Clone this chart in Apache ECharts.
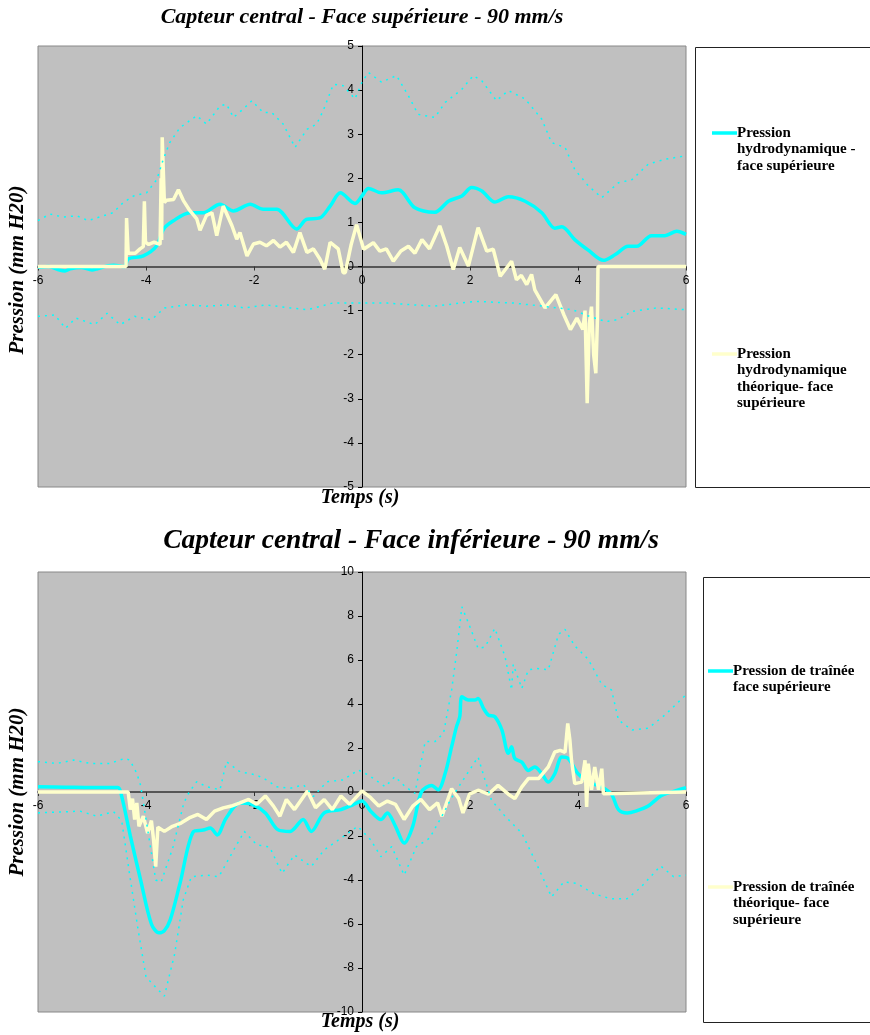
<!DOCTYPE html>
<html>
<head>
<meta charset="utf-8">
<script src="https://cdn.jsdelivr.net/npm/echarts@6/dist/echarts.min.js"></script>
<style>
  body { margin: 0; background: #fff; }
  #chart { width: 870px; height: 1035px; }
</style>
</head>
<body>
<div id="chart"></div>
<script>
// Capteur central - 90 mm/s : face supérieure (haut) et face inférieure (bas)
var topTitle = 'Capteur central - Face supérieure - 90 mm/s';
var botTitle = 'Capteur central - Face inférieure - 90 mm/s';
var topNames = ['Pression hydrodynamique - face supérieure', 'Pression hydrodynamique théorique- face supérieure'];
var botNames = ['Pression de traînée face supérieure', 'Pression de traînée théorique- face supérieure'];

// [temps (s), pression (mm H20)]
var topMeasured = [[-6,-0.02],[-5.8,0],[-5.6,-0.08],[-5.5,-0.1],[-5.4,-0.05],[-5.2,-0.02],[-5.0,-0.08],[-4.9,-0.05],
  [-4.7,0.02],[-4.6,0.03],[-4.4,0],[-4.33,0.17],[-4.05,0.24],[-3.8,0.47],[-3.68,0.84],[-3.5,1.03],[-3.19,1.22],
  [-2.94,1.22],[-2.63,1.41],[-2.38,1.26],[-2.07,1.41],[-1.83,1.3],[-1.58,1.3],[-1.21,0.85],[-1.03,1.07],[-0.78,1.1],
  [-0.59,1.37],[-0.4,1.67],[-0.13,1.43],[0,1.6],[0.12,1.77],[0.36,1.67],[0.67,1.74],[0.98,1.33],[1.35,1.23],[1.6,1.48],
  [1.85,1.6],[2.03,1.79],[2.22,1.71],[2.46,1.46],[2.71,1.58],[3.02,1.48],[3.33,1.22],[3.57,0.87],[3.7,0.9],[3.94,0.61],
  [4.19,0.37],[4.47,0.14],[4.69,0.27],[4.93,0.46],[5.09,0.46],[5.36,0.7],[5.61,0.7],[5.83,0.8],[6,0.73]];
var topTheory = [[-6,0],[-4.37,0],[-4.36,1.1],[-4.33,0.3],[-4.3,0.32],[-4.2,0.3],[-4.11,0.4],[-4.05,0.45],[-4.03,1.48],
  [-4.01,0.55],[-3.95,0.5],[-3.85,0.55],[-3.74,0.5],[-3.72,2.0],[-3.71,0.6],[-3.7,2.93],[-3.68,2.2],[-3.66,1.45],
  [-3.62,1.5],[-3.49,1.52],[-3.4,1.74],[-3.31,1.5],[-3.19,1.27],[-3.06,1.08],[-3.0,0.82],[-2.88,1.16],[-2.78,1.22],
  [-2.69,0.7],[-2.57,1.37],[-2.41,0.93],[-2.32,0.62],[-2.26,0.77],[-2.13,0.24],[-2.01,0.51],[-1.89,0.55],[-1.77,0.47],
  [-1.64,0.59],[-1.52,0.44],[-1.4,0.55],[-1.27,0.32],[-1.15,0.77],[-1.02,0.32],[-0.9,0.4],[-0.78,0.17],[-0.69,-0.06],
  [-0.59,0.55],[-0.44,0.4],[-0.35,-0.14],[-0.31,-0.14],[-0.2,0.5],[-0.1,0.95],[0.03,0.39],[0.21,0.54],[0.33,0.35],
  [0.45,0.4],[0.58,0.12],[0.72,0.35],[0.86,0.46],[0.98,0.3],[1.11,0.61],[1.25,0.4],[1.44,0.92],[1.57,0.46],[1.69,-0.07],
  [1.81,0.43],[1.97,0.01],[2.15,0.88],[2.31,0.35],[2.43,0.39],[2.56,-0.22],[2.77,0.12],[2.86,-0.3],[2.95,-0.2],
  [3.05,-0.41],[3.14,-0.18],[3.2,-0.53],[3.39,-0.94],[3.59,-0.64],[3.74,-1.1],[3.86,-1.43],[3.98,-1.17],[4.09,-1.43],
  [4.13,-1.0],[4.17,-3.1],[4.21,-1.3],[4.25,-0.91],[4.29,-2.0],[4.33,-2.42],[4.36,-1.2],[4.37,0],[6,0]];
var topUpper = [[-6,1.04],[-5.78,1.19],[-5.53,1.12],[-5.28,1.15],[-5.07,1.04],[-4.79,1.15],[-4.61,1.22],[-4.42,1.45],
  [-4.23,1.6],[-3.99,1.67],[-3.8,1.97],[-3.68,2.43],[-3.56,2.81],[-3.37,3.15],[-3.06,3.42],[-2.88,3.23],[-2.63,3.64],
  [-2.51,3.68],[-2.38,3.38],[-2.2,3.57],[-2.04,3.76],[-1.83,3.49],[-1.67,3.49],[-1.46,3.23],[-1.24,2.7],[-1.02,3.11],
  [-0.84,3.23],[-0.72,3.53],[-0.53,4.13],[-0.35,4.1],[-0.13,3.8],[0,4.18],[0.12,4.4],[0.36,4.18],[0.64,4.33],[0.86,3.87],
  [1.04,3.45],[1.35,3.38],[1.54,3.72],[1.85,4.02],[2.06,4.33],[2.22,4.21],[2.49,3.76],[2.71,3.99],[3.02,3.8],[3.33,3.34],
  [3.51,2.81],[3.76,2.7],[3.94,2.2],[4.19,1.83],[4.44,1.56],[4.75,1.9],[5.0,1.97],[5.3,2.32],[5.61,2.43],[5.94,2.5],[6,2.52]];
var topLower = [[-6,-1.13],[-5.69,-1.1],[-5.49,-1.4],[-5.3,-1.17],[-4.95,-1.32],[-4.72,-1.06],[-4.48,-1.32],[-4.21,-1.13],
  [-3.9,-1.21],[-3.66,-0.94],[-3.27,-0.87],[-2.88,-0.9],[-2.49,-0.87],[-2.18,-0.94],[-1.79,-0.87],[-1.33,-0.94],
  [-1.01,-0.98],[-0.55,-0.83],[-0.08,-0.83],[0.47,-0.83],[1.33,-0.9],[2.1,-0.79],[2.81,-0.83],[3.35,-0.9],[3.9,-0.98],
  [4.21,-1.13],[4.52,-1.25],[4.75,-1.2],[4.99,-1.02],[5.46,-0.94],[6,-0.98]];

var botMeasured = [[-6,0.24],[-5.5,0.22],[-5.0,0.2],[-4.52,0.2],[-4.45,-0.2],[-4.29,-2.0],[-4.1,-4.0],[-3.9,-6.0],
  [-3.76,-6.4],[-3.66,-6.3],[-3.55,-5.8],[-3.37,-4.15],[-3.12,-1.8],[-2.94,-1.73],[-2.81,-1.64],[-2.68,-1.95],
  [-2.52,-1.2],[-2.26,-0.5],[-2.03,-0.57],[-1.79,-0.95],[-1.56,-1.71],[-1.33,-1.79],[-1.09,-1.25],[-0.94,-1.79],
  [-0.7,-0.95],[-0.39,-0.8],[-0.16,-0.57],[0,-0.41],[0.16,-0.87],[0.35,-1.25],[0.47,-0.95],[0.62,-1.56],[0.78,-2.32],
  [0.94,-1.56],[1.1,0.0],[1.29,0.3],[1.41,0.1],[1.54,0.85],[1.66,2.06],[1.75,2.97],[1.81,3.42],[1.85,4.33],[1.97,4.18],
  [2.09,4.18],[2.15,4.25],[2.25,3.8],[2.34,3.5],[2.46,3.42],[2.59,2.82],[2.71,1.76],[2.77,2.06],[2.83,1.52],[2.96,1.36],
  [3.08,0.98],[3.2,1.14],[3.33,0.83],[3.45,0.45],[3.57,0.83],[3.7,1.59],[3.82,1.52],[4.0,0.83],[4.19,0.45],[4.44,0.23],
  [4.62,-0.1],[4.75,-0.8],[4.91,-0.95],[5.07,-0.87],[5.3,-0.64],[5.53,-0.18],[5.69,-0.03],[6,0.2]];
var botTheory = [[-6,0],[-4.33,0],[-4.29,-0.8],[-4.25,-0.3],[-4.21,-1.25],[-4.17,-0.5],[-4.13,-1.56],[-4.05,-1.1],
  [-3.97,-1.87],[-3.9,-1.3],[-3.86,-2.17],[-3.82,-3.39],[-3.78,-1.6],[-3.66,-1.79],[-3.51,-1.56],[-3.35,-1.41],
  [-3.2,-1.18],[-3.04,-1.02],[-2.88,-1.25],[-2.73,-0.87],[-2.57,-0.72],[-2.42,-0.64],[-2.26,-0.49],[-2.1,-0.34],
  [-1.95,-0.56],[-1.79,-0.18],[-1.64,-0.64],[-1.52,-1.1],[-1.4,-0.34],[-1.25,-0.8],[-1.01,0.05],[-0.86,-0.72],
  [-0.7,-0.34],[-0.55,-0.8],[-0.39,-0.18],[-0.23,-0.56],[0,0.05],[0.16,-0.26],[0.31,-0.64],[0.47,-0.41],[0.62,-0.56],
  [0.78,-1.25],[0.94,-0.64],[1.09,-0.34],[1.25,-0.8],[1.4,-0.49],[1.48,-1.1],[1.66,0.15],[1.79,-0.3],[1.87,-0.95],
  [1.99,-0.1],[2.15,0.08],[2.34,-0.1],[2.52,0.3],[2.71,-0.1],[2.83,-0.3],[2.96,0.23],[3.08,0.61],[3.27,0.61],[3.45,1.14],
  [3.57,1.82],[3.67,1.89],[3.76,1.8],[3.81,3.12],[3.85,2.36],[3.88,1.44],[3.94,0.38],[4.07,0.45],[4.13,1.44],
  [4.16,-0.68],[4.19,1.29],[4.25,0.1],[4.31,1.14],[4.38,0.1],[4.44,1.06],[4.47,-0.08],[4.5,0],[6,0]];
var botUpper = [[-6,1.38],[-5.65,1.3],[-5.34,1.45],[-5.04,1.3],[-4.67,1.3],[-4.39,1.53],[-4.3,1.45],[-4.17,0.85],
  [-4.1,0.3],[-3.95,-2.0],[-3.82,-4.0],[-3.72,-4.1],[-3.5,-2.5],[-3.3,-0.5],[-3.2,0.0],[-3.06,0.47],[-2.88,0.24],
  [-2.63,0.1],[-2.51,1.38],[-2.26,0.92],[-1.95,0.77],[-1.77,0.55],[-1.58,0.24],[-1.33,0.17],[-1.08,0.32],[-0.9,-0.2],
  [-0.65,0.47],[-0.35,0.55],[-0.07,1.0],[0.12,0.77],[0.43,0.24],[0.61,0.7],[0.8,0.24],[0.98,-0.06],[1.17,2.29],
  [1.35,2.29],[1.51,2.67],[1.66,4.64],[1.75,6.3],[1.85,8.42],[2.0,7.5],[2.15,6.52],[2.28,6.6],[2.46,7.44],[2.65,6.15],
  [2.77,4.64],[2.8,5.8],[2.96,4.71],[3.08,5.55],[3.23,5.62],[3.45,5.55],[3.64,7.17],[3.76,7.39],[3.94,6.64],[4.19,6.03],
  [4.44,4.89],[4.62,4.64],[4.75,3.27],[5.0,2.82],[5.3,2.9],[5.61,3.5],[6,4.42]];
var botLower = [[-6,-0.95],[-5.22,-0.87],[-4.91,-1.1],[-4.6,-0.9],[-4.45,-1.3],[-4.3,-3.8],[-4.15,-6.2],[-4.0,-8.4],
  [-3.85,-8.8],[-3.66,-9.28],[-3.47,-7.37],[-3.31,-4.9],[-3.16,-3.85],[-2.88,-3.78],[-2.65,-3.85],[-2.34,-2.48],
  [-2.18,-1.79],[-1.95,-2.4],[-1.71,-2.5],[-1.48,-3.7],[-1.25,-2.86],[-0.94,-3.39],[-0.7,-2.63],[-0.39,-2.1],
  [-0.08,-1.56],[0.16,-2.17],[0.35,-2.94],[0.55,-2.48],[0.78,-3.78],[1.01,-2.48],[1.25,-2.1],[1.48,-1.1],[1.64,-0.34],
  [1.91,0.69],[2.15,1.59],[2.28,0.53],[2.4,-0.38],[2.65,-1.1],[2.96,-1.87],[3.2,-3.09],[3.51,-4.77],[3.74,-4.08],
  [3.98,-4.16],[4.29,-4.62],[4.6,-4.85],[4.91,-4.85],[5.14,-4.39],[5.53,-3.36],[5.77,-3.85],[6,-3.78]];

var cyan = '#00FFFF';
var paleYellow = '#FFFFCC';
var serif = '"Liberation Serif", "DejaVu Serif", serif';

// axes cross at (0, 0): the axes are shifted into the middle of each grid
function xAxisFor(grid, shift) {
    return {
        type: 'value', gridIndex: grid, min: -6, max: 6, interval: 2, offset: shift,
        axisLine: { onZero: false, lineStyle: { color: '#333', width: 1.5 } },
        axisTick: { length: 4, lineStyle: { color: '#333' } },
        axisLabel: { color: '#000', fontSize: 12, fontFamily: 'Liberation Sans', margin: 8 },
        splitLine: { show: false }
    };
}
function yAxisFor(grid, lim, step) {
    return {
        type: 'value', gridIndex: grid, min: -lim, max: lim, interval: step, offset: -324,
        axisLine: { onZero: false, lineStyle: { color: '#000', width: 1 } },
        axisTick: { length: 4, lineStyle: { color: '#000' } },
        axisLabel: { color: '#000', fontSize: 12, fontFamily: 'Liberation Sans', margin: 8 },
        splitLine: { show: false }
    };
}
function solid(name, data, color, idx, smooth) {
    return { name: name, type: 'line', data: data, xAxisIndex: idx, yAxisIndex: idx, smooth: smooth,
        showSymbol: false, lineStyle: { color: color, width: 3.5 }, itemStyle: { color: color } };
}
function dotted(data, idx) {
    return { type: 'line', data: data, xAxisIndex: idx, yAxisIndex: idx, showSymbol: false,
        lineStyle: { color: cyan, width: 1.5, type: [2, 5] } };
}
function legendBlock(x, y, width, height, items) {
    var els = [{ type: 'rect', shape: { x: x + 0.5, y: y + 0.5, width: width, height: height },
        style: { fill: '#fff', stroke: '#222', lineWidth: 1 } }];
    items.forEach(function (it) {
        els.push({ type: 'line', shape: { x1: it.x - 25, y1: it.y, x2: it.x, y2: it.y },
            style: { stroke: it.color, lineWidth: 3.5 } });
        els.push({ type: 'text', x: it.x, y: it.y - 8,
            style: { text: it.lines.join('\n'), font: 'bold 15px ' + serif, fill: '#000',
                lineHeight: 16.3, verticalAlign: 'top' } });
    });
    return els;
}

var graphics = [
    { type: 'text', x: 362, y: 17, style: { text: topTitle, font: 'italic bold 22px ' + serif, fill: '#000', align: 'center', verticalAlign: 'middle' } },
    { type: 'text', x: 411, y: 541, style: { text: botTitle, font: 'italic bold 27.5px ' + serif, fill: '#000', align: 'center', verticalAlign: 'middle' } },
    { type: 'text', x: 360, y: 498, style: { text: 'Temps (s)', font: 'italic bold 20px ' + serif, fill: '#000', align: 'center', verticalAlign: 'middle' } },
    { type: 'text', x: 360, y: 1022, style: { text: 'Temps (s)', font: 'italic bold 20px ' + serif, fill: '#000', align: 'center', verticalAlign: 'middle' } },
    { type: 'text', x: 18, y: 270, rotation: Math.PI / 2, style: { text: 'Pression (mm H20)', font: 'italic bold 21px ' + serif, fill: '#000', align: 'center', verticalAlign: 'middle' } },
    { type: 'text', x: 18, y: 792, rotation: Math.PI / 2, style: { text: 'Pression (mm H20)', font: 'italic bold 21px ' + serif, fill: '#000', align: 'center', verticalAlign: 'middle' } }
].concat(legendBlock(695, 47, 200, 440, [
    { x: 737, y: 133, color: cyan, lines: ['Pression', 'hydrodynamique -', 'face supérieure'] },
    { x: 737, y: 354, color: paleYellow, lines: ['Pression', 'hydrodynamique', 'théorique- face', 'supérieure'] }
])).concat(legendBlock(703, 577, 200, 445, [
    { x: 733, y: 671, color: cyan, lines: ['Pression de traînée', 'face supérieure'] },
    { x: 733, y: 887, color: paleYellow, lines: ['Pression de traînée', 'théorique- face', 'supérieure'] }
]));

var option = {
    backgroundColor: '#fff',
    animation: false,
    grid: [
        { left: 38, top: 46, width: 648, height: 441, show: true, backgroundColor: '#C0C0C0', borderColor: '#888', borderWidth: 1 },
        { left: 38, top: 572, width: 648, height: 440, show: true, backgroundColor: '#C0C0C0', borderColor: '#888', borderWidth: 1 }
    ],
    xAxis: [xAxisFor(0, -220.5), xAxisFor(1, -220)],
    yAxis: [yAxisFor(0, 5, 1), yAxisFor(1, 10, 2)],
    series: [
        solid(topNames[0], topMeasured, cyan, 0, 0.3),
        solid(topNames[1], topTheory, paleYellow, 0, false),
        dotted(topUpper, 0),
        dotted(topLower, 0),
        solid(botNames[0], botMeasured, cyan, 1, 0.3),
        solid(botNames[1], botTheory, paleYellow, 1, false),
        dotted(botUpper, 1),
        dotted(botLower, 1)
    ],
    graphic: graphics
};

var chart = echarts.init(document.getElementById('chart'));
chart.setOption(option);
window.onresize = function () { chart.resize(); };
</script>
</body>
</html>
